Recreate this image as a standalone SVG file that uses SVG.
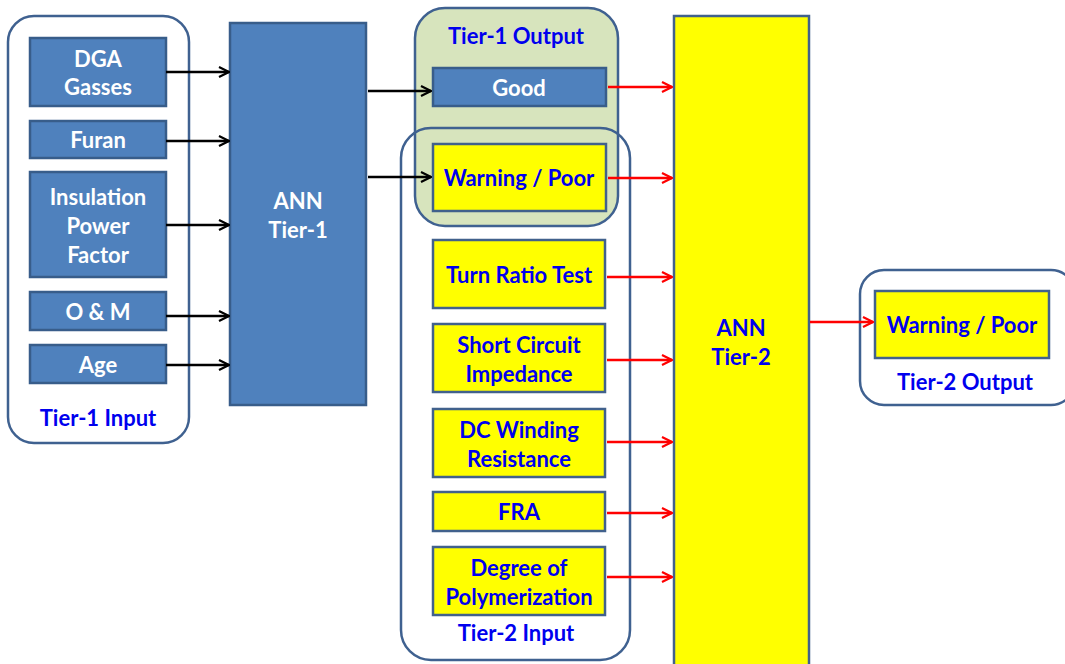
<svg xmlns="http://www.w3.org/2000/svg" width="1065" height="664" viewBox="0 0 1065 664">
<defs>
<style>
.cont{fill:#fff;stroke:#3f6190;stroke-width:2.5}
.blue{fill:#4f81bd;stroke:#385d8a;stroke-width:2.5}
.yel{fill:#ffff00;stroke:#41618c;stroke-width:2.5}
text{font-family:Lato,"Open Sans","Liberation Sans",sans-serif;font-weight:bold;font-size:22px;text-anchor:middle;dominant-baseline:central}
.w{fill:#fff}
.b{fill:#0000ee}
.blk{stroke:#000;stroke-width:2.5;fill:none}
.red{stroke:#ff0000;stroke-width:2.5;fill:none}
</style>
<marker id="ab" viewBox="0 0 12 12" refX="11" refY="6" markerWidth="12" markerHeight="12" markerUnits="userSpaceOnUse" orient="auto"><path d="M1,1 L11,6 L1,11" fill="none" stroke="#000" stroke-width="2.2"/></marker>
<marker id="ar" viewBox="0 0 12 12" refX="11" refY="6" markerWidth="12" markerHeight="12" markerUnits="userSpaceOnUse" orient="auto"><path d="M1,1 L11,6 L1,11" fill="none" stroke="#ff0000" stroke-width="2.2"/></marker>
</defs>
<rect width="1065" height="664" fill="#fff"/>

<g id="tier1-input">
<rect class="cont" x="8" y="16" width="181" height="427" rx="26"/>
<text class="b" x="98" y="417">Tier-1 Input</text>
</g>
<g id="dga"><rect class="blue" x="30" y="38" width="136" height="68"/><text class="w" x="98" y="58">DGA</text><text class="w" x="98" y="86">Gasses</text></g>
<g id="furan"><rect class="blue" x="30" y="121" width="136" height="37"/><text class="w" x="98" y="139.5">Furan</text></g>
<g id="ipf"><rect class="blue" x="30" y="172" width="136" height="105"/><text class="w" x="98" y="196">Insulation</text><text class="w" x="98" y="225">Power</text><text class="w" x="98" y="254">Factor</text></g>
<g id="om"><rect class="blue" x="30" y="292" width="136" height="38"/><text class="w" x="98" y="311">O &amp; M</text></g>
<g id="age"><rect class="blue" x="30" y="345" width="136" height="38"/><text class="w" x="98" y="364">Age</text></g>

<g id="ann1"><rect class="blue" x="230" y="23" width="136" height="382"/><text class="w" x="298" y="200">ANN</text><text class="w" x="298" y="229">Tier-1</text></g>

<g id="tier1-output">
<rect x="415" y="8" width="203" height="218" rx="30" fill="#d7e4bd" stroke="#3f6190" stroke-width="2.5"/>
<text class="b" x="516" y="35">Tier-1 Output</text>
</g>
<g id="tier2-input">
<rect x="401" y="128" width="229" height="532" rx="30" fill="none" stroke="#3f6190" stroke-width="2.5"/>
<text class="b" x="516" y="632">Tier-2 Input</text>
</g>
<g id="good"><rect class="blue" x="433" y="68" width="173" height="38"/><text class="w" x="519" y="87">Good</text></g>
<g id="warn1"><rect class="yel" x="433" y="144" width="173" height="67"/><text class="b" x="519" y="177.5">Warning / Poor</text></g>
<g id="trt"><rect class="yel" x="433" y="240" width="172" height="68"/><text class="b" x="519" y="274">Turn Ratio Test</text></g>
<g id="sci"><rect class="yel" x="433" y="324" width="172" height="68"/><text class="b" x="519" y="344">Short Circuit</text><text class="b" x="519" y="373">Impedance</text></g>
<g id="dcw"><rect class="yel" x="433" y="409" width="172" height="68"/><text class="b" x="519" y="429">DC Winding</text><text class="b" x="519" y="458">Resistance</text></g>
<g id="fra"><rect class="yel" x="433" y="492" width="172" height="39"/><text class="b" x="519" y="511.5">FRA</text></g>
<g id="dp"><rect class="yel" x="433" y="547" width="172" height="68"/><text class="b" x="519" y="567">Degree of</text><text class="b" x="519" y="596">Polymerization</text></g>

<g id="ann2"><rect class="yel" x="674" y="16" width="135" height="660"/><text class="b" x="741" y="327">ANN</text><text class="b" x="741" y="356">Tier-2</text></g>

<g id="tier2-output">
<rect class="cont" x="860" y="270" width="215" height="135" rx="24"/>
<text class="b" x="965" y="381">Tier-2 Output</text>
</g>
<g id="warn2"><rect class="yel" x="875" y="291" width="174" height="67"/><text class="b" x="962" y="324">Warning / Poor</text></g>

<g id="connectors">
<line class="blk" x1="166" y1="72" x2="229" y2="72" marker-end="url(#ab)"/>
<line class="blk" x1="166" y1="141" x2="229" y2="141" marker-end="url(#ab)"/>
<line class="blk" x1="166" y1="225" x2="229" y2="225" marker-end="url(#ab)"/>
<line class="blk" x1="166" y1="316" x2="229" y2="316" marker-end="url(#ab)"/>
<line class="blk" x1="166" y1="365" x2="229" y2="365" marker-end="url(#ab)"/>
<line class="blk" x1="368" y1="91" x2="431" y2="91" marker-end="url(#ab)"/>
<line class="blk" x1="368" y1="177" x2="431" y2="177" marker-end="url(#ab)"/>
<line class="red" x1="608" y1="87" x2="672" y2="87" marker-end="url(#ar)"/>
<line class="red" x1="608" y1="178" x2="672" y2="178" marker-end="url(#ar)"/>
<line class="red" x1="607" y1="277" x2="672" y2="277" marker-end="url(#ar)"/>
<line class="red" x1="607" y1="360" x2="672" y2="360" marker-end="url(#ar)"/>
<line class="red" x1="607" y1="442" x2="672" y2="442" marker-end="url(#ar)"/>
<line class="red" x1="607" y1="513" x2="672" y2="513" marker-end="url(#ar)"/>
<line class="red" x1="607" y1="577" x2="672" y2="577" marker-end="url(#ar)"/>
<line class="red" x1="810" y1="322" x2="873" y2="322" marker-end="url(#ar)"/>
</g>
</svg>
